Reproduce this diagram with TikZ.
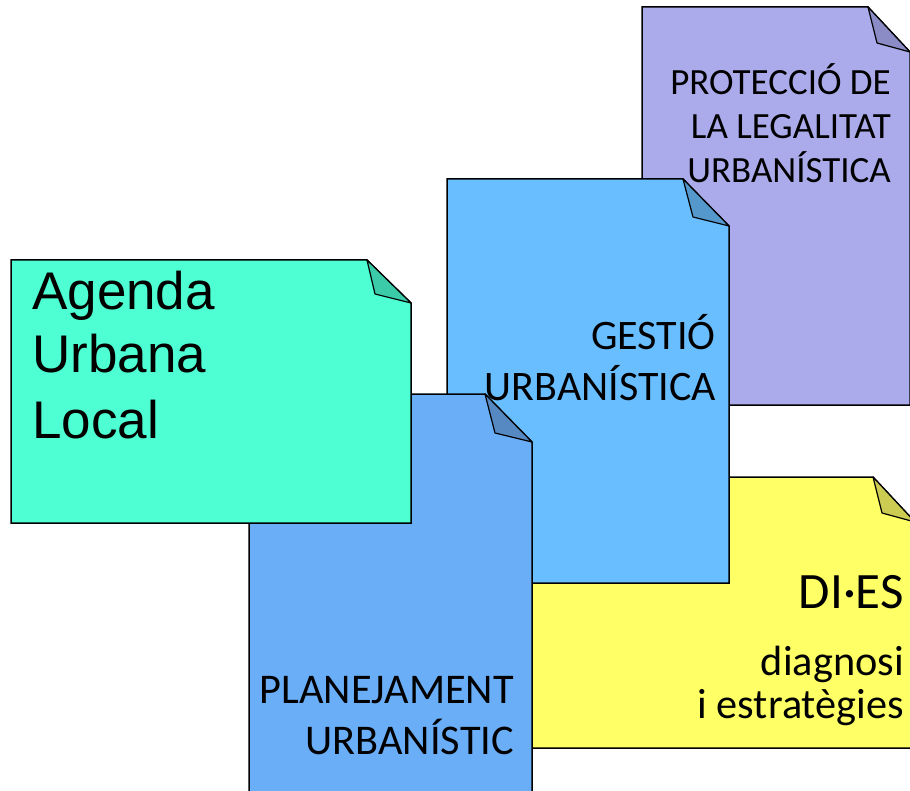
\documentclass[tikz,border=0pt]{standalone}
\usepackage{fontspec}
\setmainfont{Carlito}
\newfontfamily\arialf{Liberation Sans}
\definecolor{cPurple}{HTML}{ABABEB}
\definecolor{cPurpleF}{HTML}{8B8BC6}
\definecolor{cGest}{HTML}{69BEFF}
\definecolor{cGestF}{HTML}{5598CC}
\definecolor{cPlan}{HTML}{6AAEF8}
\definecolor{cPlanF}{HTML}{5688C2}
\definecolor{cYel}{HTML}{FFFF66}
\definecolor{cYelF}{HTML}{CCCC52}
\definecolor{cAg}{HTML}{4DFFD2}
\definecolor{cAgF}{HTML}{3CCBA8}
% page with folded corner: #1 L, #2 T, #3 Fx, #4 R, #5 Fy, #6 Ix, #7 Iy, #8 B, #9 colour
\newcommand{\foldpage}[9]{%
  \filldraw[pageline, fill=#9] (#1,#2) -- (#3,#2) -- (#4,#5) -- (#4,#8) -- (#1,#8) -- cycle;
  \filldraw[foldline, fill=#9F] (#3,#2) -- (#6,#7) -- (#4,#5) -- cycle;}
\tikzset{
  pageline/.style={draw=black, line width=1.5pt, line join=miter},
  foldline/.style={draw=black, line width=1.2pt, line join=round},
  lbl/.style={anchor=base east, inner sep=0pt, text=black},
}
\begin{document}
\begin{tikzpicture}[x=1pt,y=-1pt]
\useasboundingbox (0,0) rectangle (910,791);
\clip (0,0) rectangle (910,791);
% shapes, back to front
\foldpage{642}{7}{868}{910}{52}{877}{43}{405}{cPurple}
\foldpage{520}{477}{873}{915}{522}{882}{513}{748}{cYel}
\foldpage{447}{179}{683}{729}{226}{693}{217}{583}{cGest}
\foldpage{249}{394}{485}{532}{442}{495}{433}{805}{cPlan}
\foldpage{11}{260}{367}{411}{303}{375}{294}{523}{cAg}
% texts
\node[lbl, font=\fontsize{37}{44}\selectfont] (p1) at (891,95) {PROTECCIÓ DE};
\node[lbl, font=\fontsize{37}{44}\selectfont] (p2) at (891,139) {LA LEGALITAT};
\node[lbl, font=\fontsize{37}{44}\selectfont] (p3) at (891,183) {URBANÍSTICA};
\node[lbl, font=\fontsize{42}{50}\selectfont] (g1) at (716,350) {GESTIÓ};
\node[lbl, font=\fontsize{42}{50}\selectfont] (g2) at (716,400) {URBANÍSTICA};
\node[lbl, font=\fontsize{42.3}{50}\selectfont] (pl1) at (514,703) {PLANEJAMENT};
\node[lbl, font=\fontsize{42.3}{50}\selectfont] (pl2) at (514,754) {URBANÍSTIC};
\node[lbl, font=\fontsize{51}{58}\selectfont] (d1) at (904,608) {DI·ES};
\node[lbl, font=\fontsize{42.3}{50}\selectfont] (d2) at (904,675) {diagnosi};
\node[lbl, font=\fontsize{42.3}{50}\selectfont] (d3) at (904,718) {i estratègies};
\node[anchor=base west, inner sep=0pt, font=\arialf\fontsize{53}{62}\selectfont] (a1) at (32,310) {Agenda};
\node[anchor=base west, inner sep=0pt, font=\arialf\fontsize{53}{62}\selectfont] (a2) at (32,373) {Urbana};
\node[anchor=base west, inner sep=0pt, font=\arialf\fontsize{53}{62}\selectfont] (a3) at (32,438) {Local};
\end{tikzpicture}
\end{document}
